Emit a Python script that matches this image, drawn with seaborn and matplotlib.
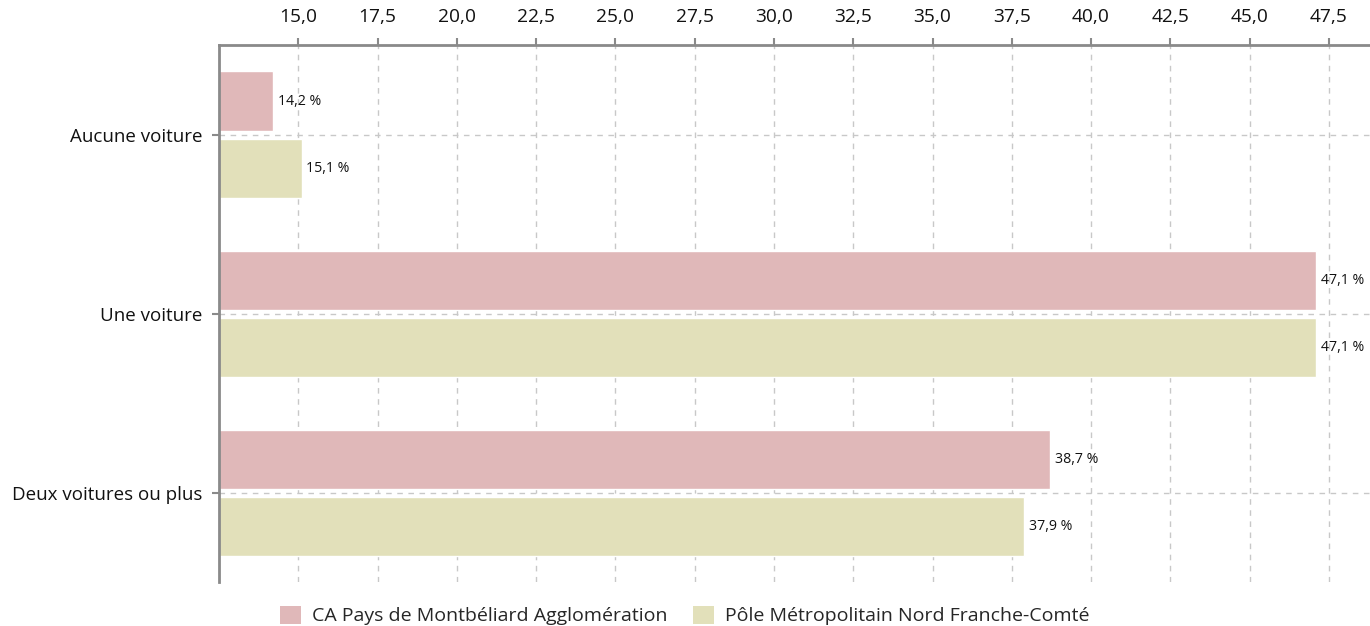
import matplotlib
matplotlib.use("Agg")
import matplotlib.pyplot as plt
import seaborn as sns
import pandas as pd
import numpy as np
from matplotlib.ticker import FuncFormatter
from matplotlib.patches import Patch

categories = ["Aucune voiture", "Une voiture", "Deux voitures ou plus"]
series_names = ["CA Pays de Montbéliard Agglomération", "Pôle Métropolitain Nord Franche-Comté"]
ca_values = [14.2, 47.1, 38.7]
pole_values = [15.1, 47.1, 37.9]
x_ticks = [15.0, 17.5, 20.0, 22.5, 25.0, 27.5, 30.0, 32.5, 35.0, 37.5, 40.0, 42.5, 45.0, 47.5]
colors = ["#E0B8B9", "#E2E0BA"]

sns.set_style("white")
plt.rcParams['font.family'] = ['Open Sans', 'DejaVu Sans']

df = pd.DataFrame({
    "cat": categories * 2,
    "val": ca_values + pole_values,
    "serie": [series_names[0]] * 3 + [series_names[1]] * 3,
})

fig = plt.figure(figsize=(13.7, 6.26), dpi=100)
ax = fig.add_axes([0.16, 0.0695, 0.84, 0.8585])

sns.barplot(data=df, y="cat", x="val", hue="serie", order=categories,
            hue_order=series_names, palette=colors, orient="h",
            width=0.75, gap=0.12, saturation=1, ax=ax, legend=False, errorbar=None)

ax.set_xlim(12.5, 48.8)
ax.set_ylim(2.5, -0.5)
ax.xaxis.tick_top()
ax.set_xticks(x_ticks)
ax.xaxis.set_major_formatter(FuncFormatter(lambda v, p: f"{v:.1f}".replace(".", ",")))
ax.set_xlabel("")
ax.set_ylabel("")

ax.grid(True, axis="both", linestyle=(0, (4, 4)), color="#c8c8c8", linewidth=1)
ax.set_axisbelow(True)

for s in ["right", "bottom"]:
    ax.spines[s].set_visible(False)
for s in ["top", "left"]:
    ax.spines[s].set_color("#8a8a8a")
    ax.spines[s].set_linewidth(2)

ax.tick_params(axis="x", which="both", top=True, bottom=False, length=5, width=1.5,
               color="#8a8a8a", labelsize=13.8, pad=9, labelcolor="#111111")
ax.tick_params(axis="y", left=True, length=5, width=1.5, color="#8a8a8a",
               labelsize=13.5, pad=7, labelcolor="#111111")

for cont in ax.containers:
    labels = [f"{b.get_width():.1f}".replace(".", ",") + " %" for b in cont]
    ax.bar_label(cont, labels=labels, padding=3.5, fontsize=10.2, color="#111111")

handles = [Patch(facecolor=c, edgecolor="none") for c in colors]
fig.legend(handles, series_names, loc="lower center", bbox_to_anchor=(0.5, -0.027),
           ncol=2, frameon=False, fontsize=14.0, handlelength=1.05, handleheight=1.05,
           handletextpad=0.6, columnspacing=1.3)

fig.savefig("out.png", dpi=100)
